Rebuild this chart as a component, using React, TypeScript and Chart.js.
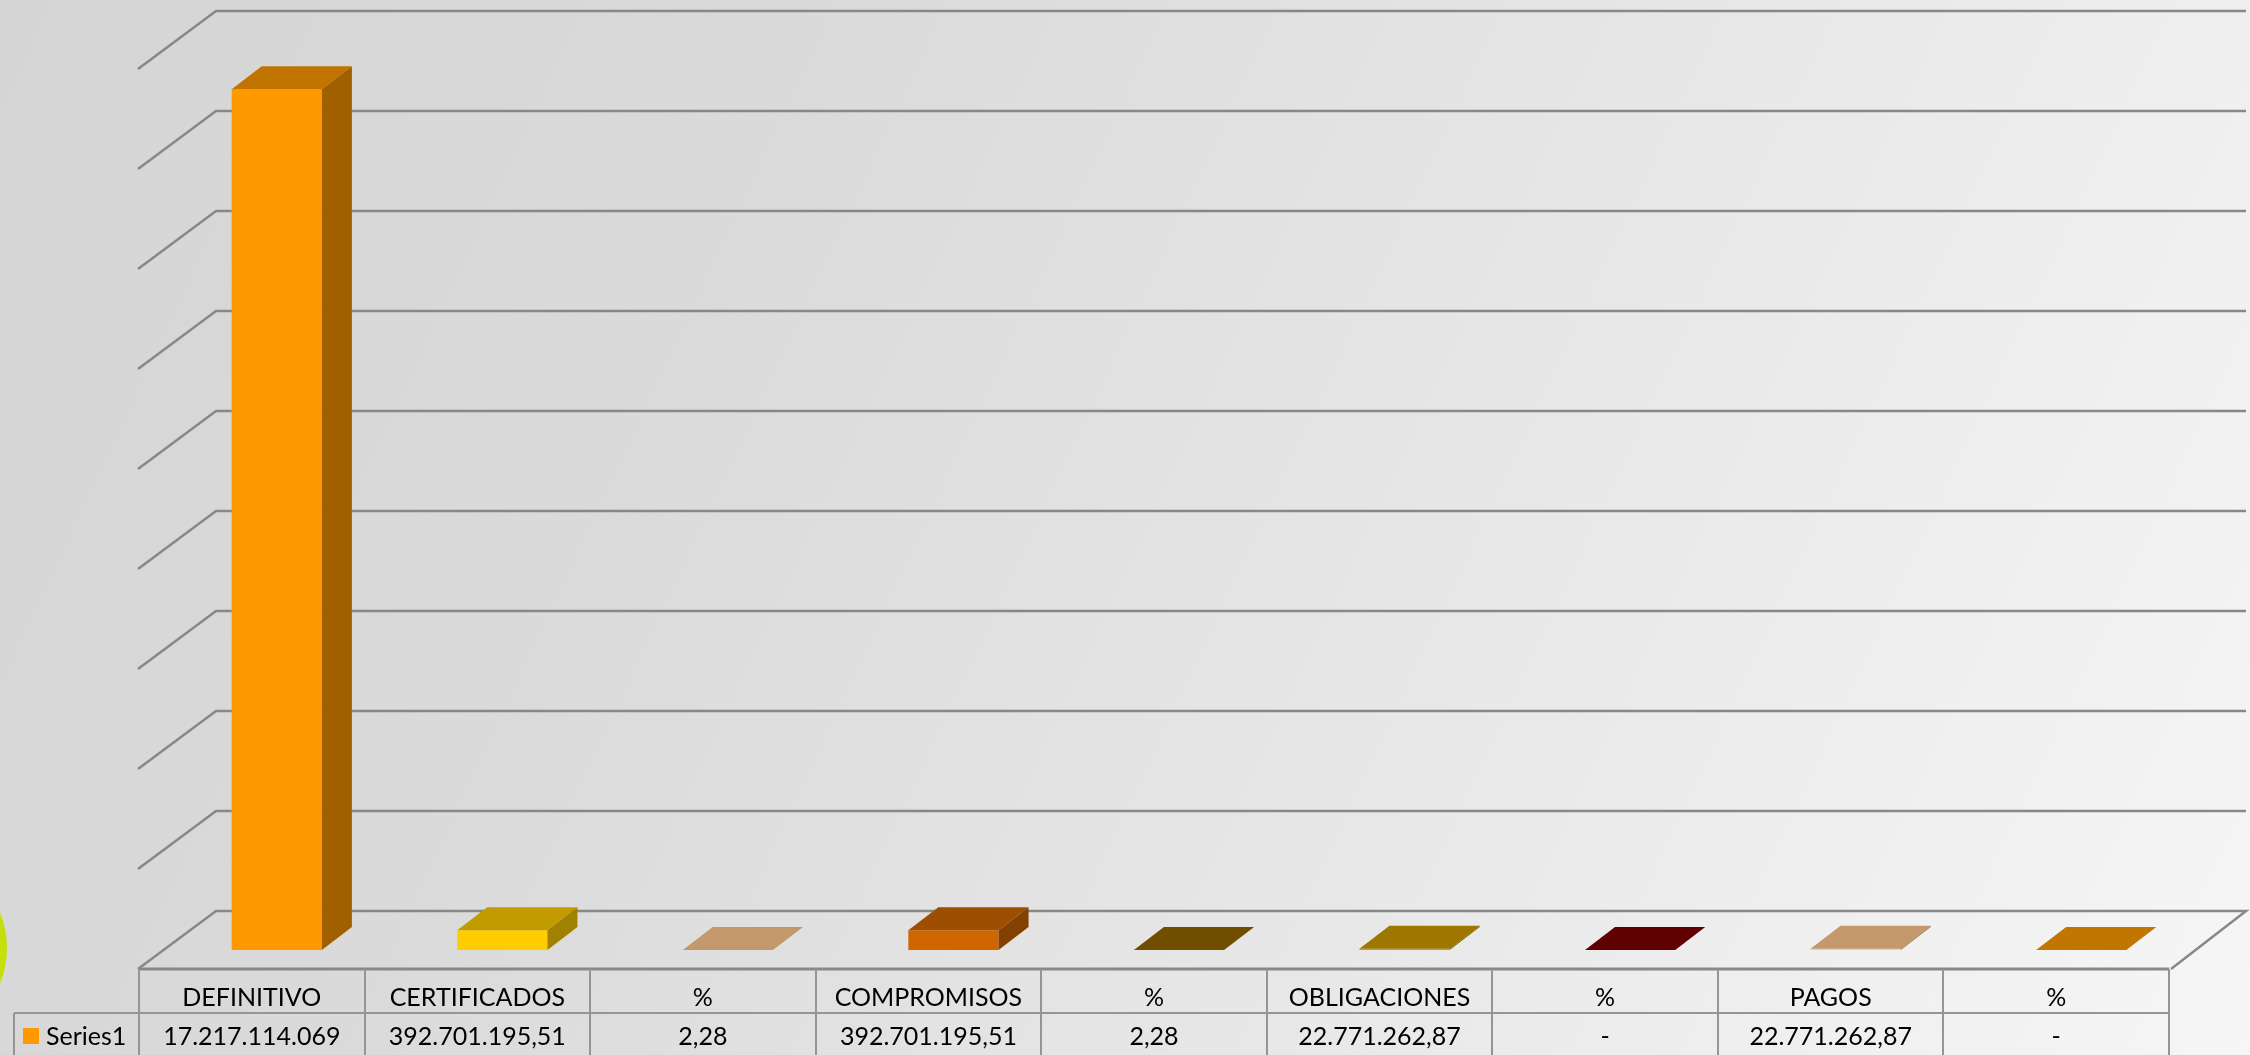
import React, { useEffect, useRef } from 'react';
import { Chart, registerables } from 'chart.js';

Chart.register(...registerables);

// ---- data ----
const categories = ['DEFINITIVO', 'CERTIFICADOS', '%', 'COMPROMISOS', '%', 'OBLIGACIONES', '%', 'PAGOS', '%'];
const seriesName = 'Series1';
const values = [17217114069, 392701195.51, 2.28, 392701195.51, 2.28, 22771262.87, 0, 22771262.87, 0];
const valueLabels = ['17.217.114.069', '392.701.195,51', '2,28', '392.701.195,51', '2,28', '22.771.262,87', '-', '22.771.262,87', '-'];
const yMin = 0;
const yMax = 18000000000;
const yStep = 2000000000;

// ---- styles ----
const frontColors = ['#FF9900', '#FFCC00', '#FFC88E', '#D06600', '#946700', '#CF9C00', '#7E0000', '#FFC88E', '#FF9A00'];
const W = 2250;
const H = 1055;
const FONT = '"Lato", "Open Sans", sans-serif';
const LINE = '#888888';

function shade(hex: string, f: number): string {
  const n = parseInt(hex.slice(1), 16);
  const r = Math.round(((n >> 16) & 255) * f);
  const g = Math.round(((n >> 8) & 255) * f);
  const b = Math.round((n & 255) * f);
  return `rgb(${r},${g},${b})`;
}

const threeD = {
  id: 'threeD',
  beforeDraw(chart: any) {
    const { ctx } = chart;
    ctx.save();
    const g = ctx.createLinearGradient(0, 0, W, H);
    g.addColorStop(0, '#d5d5d5');
    g.addColorStop(0.3, '#dadada');
    g.addColorStop(1, '#f6f6f6');
    ctx.fillStyle = g;
    ctx.fillRect(0, 0, W, H);
    // decorative circle at left edge
    ctx.fillStyle = '#c6df0c';
    ctx.beginPath();
    ctx.arc(-86, 948, 93, 0, Math.PI * 2);
    ctx.fill();
    ctx.restore();
  },
  beforeDatasetsDraw(chart: any) {
    const { ctx, chartArea, scales } = chart;
    const y = scales.y;
    const backDx = 52, backDy = -39;
    const sideDx = -78, sideDy = 58;
    ctx.save();
    ctx.strokeStyle = LINE;
    ctx.lineWidth = 2.5;
    for (let v = yMin; v <= yMax + 1; v += yStep) {
      const yb = y.getPixelForValue(v) + backDy;
      const xl = chartArea.left + backDx;
      ctx.beginPath();
      ctx.moveTo(xl + sideDx, yb + sideDy);
      ctx.lineTo(xl, yb);
      ctx.lineTo(chartArea.right + backDx, yb);
      if (v === yMin) {
        ctx.lineTo(chartArea.right + backDx + sideDx + 3, yb + sideDy);
      }
      ctx.stroke();
    }
    // floor front edge
    const fy = y.getPixelForValue(0) + 19;
    ctx.lineWidth = 3;
    ctx.beginPath();
    ctx.moveTo(chartArea.left - 25, fy);
    ctx.lineTo(chartArea.right - 25, fy);
    ctx.stroke();
    ctx.restore();
  },
  afterDatasetsDraw(chart: any) {
    const { ctx } = chart;
    const meta = chart.getDatasetMeta(0);
    const dx = 30, dy = -23;
    ctx.save();
    meta.data.forEach((el: any, i: number) => {
      const { x, y, base, width } = el.getProps(['x', 'y', 'base', 'width'], true);
      const l = x - width / 2;
      const r = x + width / 2;
      const c = frontColors[i];
      // top face
      ctx.fillStyle = shade(c, 0.76);
      ctx.beginPath();
      ctx.moveTo(l, y);
      ctx.lineTo(r, y);
      ctx.lineTo(r + dx, y + dy);
      ctx.lineTo(l + dx, y + dy);
      ctx.closePath();
      ctx.fill();
      // side face
      if (base - y > 0.5) {
        ctx.fillStyle = shade(c, 0.63);
        ctx.beginPath();
        ctx.moveTo(r, y);
        ctx.lineTo(r + dx, y + dy);
        ctx.lineTo(r + dx, base + dy);
        ctx.lineTo(r, base);
        ctx.closePath();
        ctx.fill();
      }
    });
    ctx.restore();
  },
  afterDraw(chart: any) {
    const { ctx, chartArea, scales } = chart;
    const fy = scales.y.getPixelForValue(0) + 19;
    const left = chartArea.left - 25;
    const colW = (chartArea.right - chartArea.left) / categories.length;
    const right = left + colW * categories.length;
    const midY = fy + 44;
    ctx.save();
    ctx.strokeStyle = '#959595';
    ctx.lineWidth = 2;
    ctx.beginPath();
    for (let i = 0; i <= categories.length; i++) {
      const xx = Math.round(left + i * colW);
      ctx.moveTo(xx, fy);
      ctx.lineTo(xx, H);
    }
    ctx.moveTo(14, midY);
    ctx.lineTo(right, midY);
    ctx.moveTo(14, midY);
    ctx.lineTo(14, H);
    ctx.stroke();

    ctx.fillStyle = '#000';
    ctx.font = `25px ${FONT}`;
    ctx.textAlign = 'center';
    ctx.textBaseline = 'alphabetic';
    categories.forEach((c, i) => {
      const cx = left + (i + 0.5) * colW;
      ctx.fillText(c, cx, fy + 37);
      ctx.fillText(valueLabels[i], cx, midY + 32);
    });
    // legend key
    ctx.fillStyle = frontColors[0];
    ctx.fillRect(23, 1028, 16, 16);
    ctx.fillStyle = '#000';
    ctx.textAlign = 'left';
    ctx.fillText(seriesName, 46, midY + 32);
    ctx.restore();
  },
};

export default function App() {
  const ref = useRef<HTMLCanvasElement | null>(null);
  useEffect(() => {
    if (!ref.current) return;
    const chart = new Chart(ref.current, {
      type: 'bar',
      data: {
        labels: categories,
        datasets: [
          {
            label: seriesName,
            data: values,
            backgroundColor: frontColors,
            borderWidth: 0,
            barPercentage: 0.4,
            categoryPercentage: 1,
          },
        ],
      },
      options: {
        responsive: false,
        animation: false,
        devicePixelRatio: 1,
        layout: { padding: { left: 164, right: 56, top: 50, bottom: 105 } },
        plugins: { legend: { display: false }, tooltip: { enabled: false }, title: { display: false } },
        scales: {
          x: { display: false, offset: true, grid: { display: false } },
          y: { display: false, min: yMin, max: yMax, ticks: { stepSize: yStep } },
        },
      },
      plugins: [threeD],
    });
    return () => chart.destroy();
  }, []);
  return (
    <div style={{ position: 'fixed', left: 0, top: 0, width: W, height: H, overflow: 'hidden' }}>
      <canvas ref={ref} width={W} height={H} style={{ display: 'block', width: W, height: H }} />
    </div>
  );
}
